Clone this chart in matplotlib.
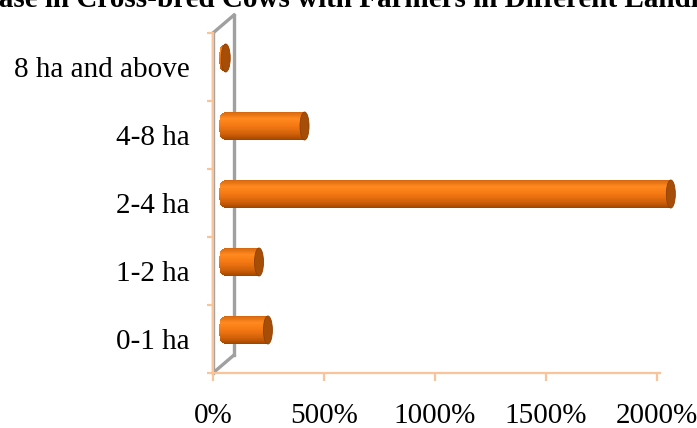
import matplotlib
matplotlib.use("Agg")
import matplotlib.pyplot as plt
import matplotlib.transforms as mtransforms
import numpy as np
from matplotlib.colors import LinearSegmentedColormap
from matplotlib.patches import Ellipse

plt.rcParams["font.family"] = ["Liberation Serif", "DejaVu Serif"]

# %%
labels = ["0-1 ha", "1-2 ha", "2-4 ha", "4-8 ha", "8 ha and above"]
values = [200, 160, 2015, 365, 10]
xticks = [0, 500, 1000, 1500, 2000]
xticklabels = ["0%", "500%", "1000%", "1500%", "2000%"]
title = "Increase in Cross-bred Cows with Farmers in Different Landholdings"

# %%
W, H, DPI = 697, 428, 100
fig = plt.figure(figsize=(W / DPI, H / DPI), dpi=DPI)

# axes box in pixels: left, bottom, right, top
x0, y0, x1, y1 = 213, 373, 660, 33
xmax = 2013.5
ax = fig.add_axes([x0 / W, 1 - y0 / H, (x1 - x0) / W, (y0 - y1) / H])
ax.set_xlim(0, xmax)
ax.set_ylim(-0.5, len(labels) - 0.5)
px_per_x = (x1 - x0) / xmax
px_per_y = (y0 - y1) / len(labels)

axis_col = "#F9C49A"
wall_col = "#A0A0A0"

for s in ["top", "right"]:
    ax.spines[s].set_visible(False)
for s in ["left", "bottom"]:
    ax.spines[s].set_color(axis_col)
    ax.spines[s].set_linewidth(1.6)

ax.set_xticks(xticks)
ax.set_xticklabels(xticklabels, fontsize=21)
ax.tick_params(axis="x", length=5.8, width=1.6, color=axis_col, pad=16)

ax.set_yticks(np.arange(-0.5, len(labels), 1.0))
ax.set_yticklabels([])
ax.set_yticks(np.arange(len(labels)), minor=True)
ax.set_yticklabels(labels, minor=True, fontsize=21)
ax.tick_params(axis="y", which="major", length=4.3, width=1.6, color=axis_col)
ax.tick_params(axis="y", which="minor", length=0, pad=17)

# back wall outline, pushed back by the depth offset
depth_dx, depth_dy = 21, 18
back = ax.transAxes + mtransforms.ScaledTranslation(depth_dx / DPI, depth_dy / DPI, fig.dpi_scale_trans)
ax.plot([0, 0], [0, 1], transform=ax.transAxes, color=wall_col, lw=2.4, clip_on=False, zorder=1)
ax.plot([0, 0], [0, 1], transform=back, color=wall_col, lw=2.4, clip_on=False, zorder=1)
inv = ax.transAxes.inverted()
for yy in [0, 1]:
    p0 = ax.transAxes.transform((0, yy))
    p1 = back.transform((0, yy))
    ax.plot(*zip(inv.transform(p0), inv.transform(p1)), transform=ax.transAxes,
            color=wall_col, lw=2.4, clip_on=False, zorder=1)

# cylinders sit halfway into the depth
mid = ax.transData + mtransforms.ScaledTranslation(
    depth_dx / 2 / DPI, depth_dy / 2 / DPI, fig.dpi_scale_trans)

body_cmap = LinearSegmentedColormap.from_list(
    "body", [(0.0, "#D86810"), (0.22, "#FF8A1E"), (0.5, "#F47812"),
             (0.8, "#D06008"), (1.0, "#A04600")])
bar_h = 28 / px_per_y
cap_a = 4.5 / px_per_x
n = 40
ts = np.linspace(-1, 1, n)
strip_h = bar_h / n

for i, v in enumerate(values):
    for k, t in enumerate(ts):
        bulge = cap_a * np.sqrt(max(0.0, 1 - t * t))
        yc = i + t * (bar_h - strip_h) / 2
        ax.barh(yc, v + bulge, left=-bulge, height=strip_h * 1.05,
                color=body_cmap(1 - (t + 1) / 2), linewidth=0,
                transform=mid, zorder=3, clip_on=False)
    ax.add_patch(Ellipse((v, i), 2 * cap_a, bar_h, transform=mid, clip_on=False,
                         facecolor="#A64E08", edgecolor="#8E4004", lw=0.6, zorder=4))

fig.text(-67 / W, 1 - 7 / H, title, fontsize=21, fontweight="bold",
         ha="left", va="baseline")

fig.savefig("out.png", dpi=DPI)
